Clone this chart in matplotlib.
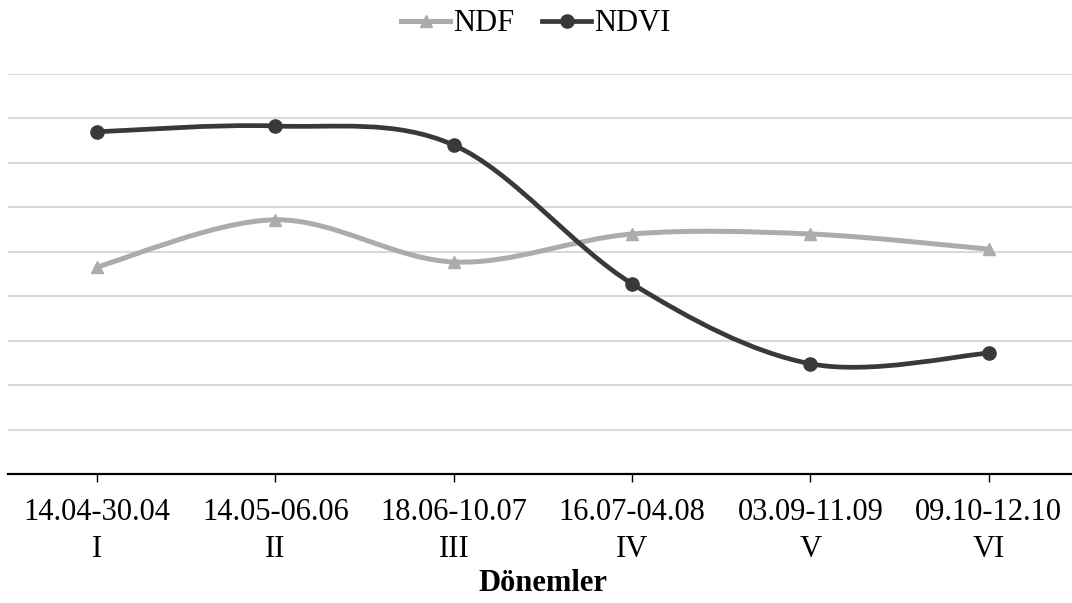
import numpy as np
import matplotlib.pyplot as plt
from matplotlib.path import Path
from matplotlib.patches import PathPatch
from matplotlib.lines import Line2D

plt.rcParams['font.family'] = ['Liberation Serif', 'DejaVu Serif']

donemler = ['14.04-30.04\nI', '14.05-06.06\nII', '18.06-10.07\nIII',
            '16.07-04.08\nIV', '03.09-11.09\nV', '09.10-12.10\nVI']
ndf = [0.466, 0.572, 0.477, 0.540, 0.540, 0.506]
ndvi = [0.770, 0.783, 0.740, 0.428, 0.248, 0.272]

renk_ndf = '#AFABAB'
renk_ndvi = '#3B3838'


def egri(ax, x, y, color, lw):
    # yumusatilmis cizgi: Catmull-Rom -> kubik Bezier
    x = np.asarray(x, float); y = np.asarray(y, float)
    p = np.column_stack([x, y])
    pts = [p[0]]
    codes = [Path.MOVETO]
    n = len(p)
    for i in range(n - 1):
        p0 = p[i - 1] if i > 0 else p[i]
        p3 = p[i + 2] if i + 2 < n else p[i + 1]
        c1 = p[i] + (p[i + 1] - p0) / 6
        c2 = p[i + 1] - (p3 - p[i]) / 6
        pts += [c1, c2, p[i + 1]]
        codes += [Path.CURVE4] * 3
    ax.add_patch(PathPatch(Path(pts, codes), fill=False, edgecolor=color,
                           lw=lw, capstyle='round', zorder=3))


fig = plt.figure(figsize=(10.72, 6.03), dpi=100)
ax = fig.add_axes([8 / 1072, 129 / 603, 1070 / 1072, 400 / 603])

x = np.arange(len(donemler))
egri(ax, x, ndf, renk_ndf, 3.6)
ax.plot(x, ndf, ls='none', marker='^', ms=9, color=renk_ndf, zorder=4)
egri(ax, x, ndvi, renk_ndvi, 3.4)
ax.plot(x, ndvi, ls='none', marker='o', ms=9.5, color=renk_ndvi, zorder=5)

ax.set_xlim(-0.5, 5.5)
ax.set_ylim(0, 0.9)
ax.set_yticks(np.arange(0.1, 0.91, 0.1))
ax.yaxis.grid(True, color='#D9D9D9', lw=1.5)
ax.tick_params(axis='y', left=False, labelleft=False)
ax.set_axisbelow(True)
for s in ['top', 'right', 'left']:
    ax.spines[s].set_visible(False)
ax.spines['bottom'].set_linewidth(1.6)

ax.set_xticks(x)
ax.set_xticklabels(donemler, fontsize=22, linespacing=1.4)
ax.tick_params(axis='x', length=6, width=1.0, pad=11)
ax.set_xlabel('Dönemler', fontsize=22, fontweight='bold', labelpad=3)

tutamak = [Line2D([], [], color=renk_ndf, lw=3.6, marker='^', ms=9),
           Line2D([], [], color=renk_ndvi, lw=3.4, marker='o', ms=9.5)]
fig.legend(tutamak, ['NDF', 'NDVI'], loc='upper center', bbox_to_anchor=(0.5, 1.03),
           ncol=2, frameon=False, fontsize=22, handlelength=1.6,
           handletextpad=0.1, columnspacing=0.9)

fig.savefig('out.png', dpi=100)
